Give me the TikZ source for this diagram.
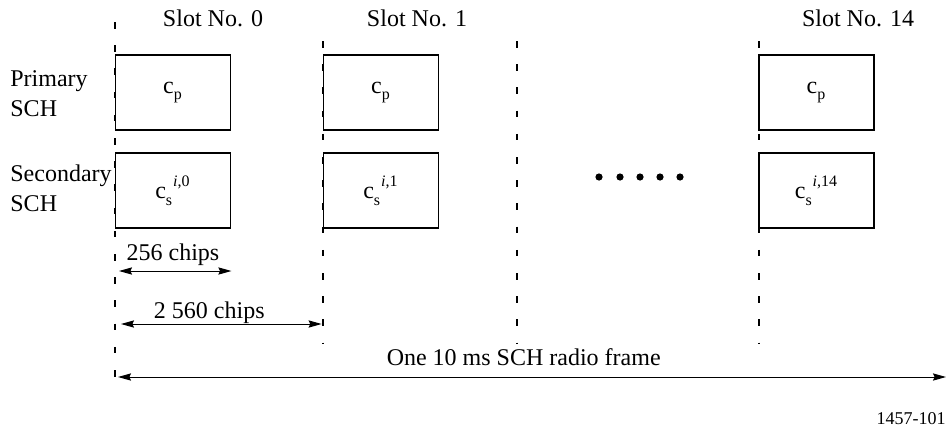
\documentclass[tikz,border=0pt]{standalone}
\usepackage{fontspec}
\setmainfont{Liberation Serif}
\usetikzlibrary{arrows.meta, calc}
\newcommand\lowsub[1]{\raisebox{-0.3ex}{\textsubscript{#1}}}
\newcommand\highsup[1]{\raisebox{0.3ex}{\textsuperscript{#1}}}

\begin{document}
\begin{tikzpicture}[x=0.5pt, y=-0.5pt, >={Stealth[length=6.5pt, width=3.6pt, inset=0.8pt]},
  every node/.style={font=\fontsize{12}{15}\selectfont},
  slotbox/.style={draw, line width=0.9pt, minimum width=57.5pt, minimum height=37.5pt, inner sep=0pt, font=\fontsize{12}{13}\selectfont},
  slotline/.style={line width=0.7pt, dash pattern=on 3.3pt off 8.3pt},
  span/.style={<->, line width=0.5pt}]
  \useasboundingbox (0,0) rectangle (947,434);
  % slot boundaries
  \coordinate (top0) at (115,22);   \coordinate (bot0) at (115,392);
  \coordinate (top1) at (323,41);   \coordinate (bot1) at (323,343);
  \coordinate (topm) at (517,41);   \coordinate (botm) at (517,343);
  \coordinate (top14) at (759,41);  \coordinate (bot14) at (759,343);
  \draw[slotline] (top0) -- (bot0);
  \draw[slotline] (top1) -- (bot1);
  \draw[slotline] (topm) -- (botm);
  \draw[slotline] (top14) -- (bot14);
  % slot titles
  \node[anchor=base] (title0) at (213,26) {Slot No. 0};
  \node[anchor=base] (title1) at (417,26) {Slot No. 1};
  \node[anchor=base] (title14) at (858,26) {Slot No. 14};
  % row labels
  \node[anchor=north west, inner sep=0pt, align=left] (prim) at (10,70) {Primary\\SCH};
  \node[anchor=north west, inner sep=0pt, align=left] (sec) at (10,164) {Secondary\\SCH};
  % code boxes
  \node[slotbox] (p0) at (173,92.5) {c\lowsub{p}};
  \node[slotbox] (s0) at (173,190.5) {c\lowsub{s}\highsup{\textit{i},0}};
  \node[slotbox] (p1) at (381,92.5) {c\lowsub{p}};
  \node[slotbox] (s1) at (381,190.5) {c\lowsub{s}\highsup{\textit{i},1}};
  \node[slotbox] (p14) at (816.5,92.5) {c\lowsub{p}};
  \node[slotbox] (s14) at (816.5,190.5) {c\lowsub{s}\highsup{\textit{i},14}};
  % slots in between
  \foreach \x in {599,620,640,660,680}
    \fill (\x,177) circle (1.8pt);
  % durations
  \coordinate (c256) at (119,271);
  \coordinate (c2560) at (121,324);
  \coordinate (cframe) at (118,377);
  \coordinate (eframe) at (946,377);
  \draw[span] (c256) -- (c256 -| s0.east) node[pos=0.48, anchor=base, yshift=5.5pt] {256 chips};
  \draw[span] (c2560) -- ($(c2560 -| s1.west)+(-1,0)$) node[pos=0.44, anchor=base, yshift=3pt] {2 560 chips};
  \draw[span] (cframe) -- (eframe) node[pos=0.49, anchor=base, yshift=6pt] {One 10 ms SCH radio frame};
  \node[anchor=base east, inner sep=0pt, font=\fontsize{9}{10}\selectfont] (figno) at (946,424) {1457-101};
\end{tikzpicture}
\end{document}
